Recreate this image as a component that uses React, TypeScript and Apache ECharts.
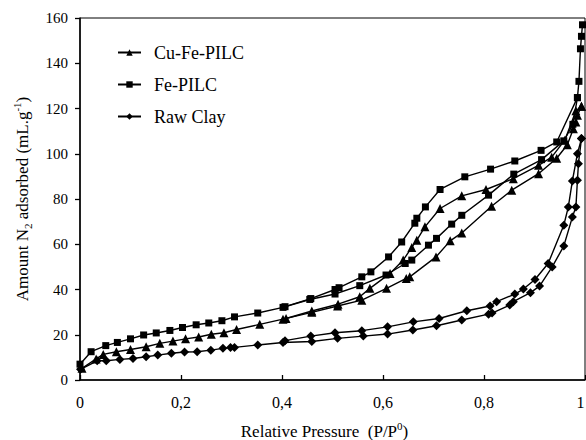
import React, { useEffect, useRef } from "react";
import * as echarts from "echarts";

// N2 adsorption/desorption isotherms: [relative pressure, amount adsorbed (mL/g)]
const cuFeAdsorption: number[][] = [
  [0.004, 5.2], [0.032, 9.3], [0.046, 11.3], [0.072, 12.5], [0.1, 13.5], [0.131, 14.7],
  [0.158, 16.2], [0.184, 17.2], [0.209, 18.2], [0.235, 19.0], [0.26, 20.2], [0.285, 20.9],
  [0.31, 22.3], [0.356, 24.6], [0.402, 26.9], [0.459, 29.9], [0.51, 32.7], [0.558, 35.3],
  [0.607, 40.5], [0.646, 44.9], [0.653, 45.6], [0.705, 54.4], [0.733, 61.5], [0.756, 65.0],
  [0.815, 76.8], [0.855, 83.9], [0.908, 91.2], [0.944, 98.0], [0.965, 104.0], [0.977, 111.0],
  [0.982, 114.0], [0.985, 117.0], [0.993, 121.0],
];
const cuFeDesorption: number[][] = [
  [0.993, 121.0], [0.982, 119.0], [0.96, 106.0], [0.934, 98.5], [0.908, 94.9], [0.858, 89.0],
  [0.804, 84.2], [0.756, 81.4], [0.713, 75.8], [0.683, 67.7], [0.667, 61.8], [0.657, 58.6],
  [0.64, 53.0], [0.614, 47.1], [0.574, 40.5], [0.554, 36.8], [0.511, 33.5], [0.459, 30.5],
  [0.408, 27.2],
];

const feAdsorption: number[][] = [
  [0, 7.0], [0.022, 12.5], [0.051, 15.2], [0.074, 16.6], [0.1, 18.2], [0.126, 19.9],
  [0.151, 20.8], [0.178, 21.9], [0.203, 23.2], [0.23, 24.4], [0.255, 25.2], [0.281, 26.2],
  [0.306, 27.9], [0.352, 29.6], [0.402, 32.1], [0.455, 35.6], [0.505, 38.0], [0.554, 41.7],
  [0.606, 46.4], [0.644, 51.5], [0.657, 53.0], [0.69, 59.6], [0.706, 62.6], [0.736, 68.9],
  [0.756, 72.8], [0.809, 81.7], [0.859, 91.0], [0.914, 97.4], [0.958, 105.7], [0.976, 113.0],
  [0.985, 124.8], [0.988, 132.0], [0.991, 146.4], [0.993, 151.9], [0.995, 157.0],
];
const feDesorption: number[][] = [
  [0.985, 124.8], [0.944, 105.2], [0.913, 101.5], [0.861, 96.8], [0.813, 93.2], [0.762, 89.8],
  [0.713, 84.2], [0.684, 76.5], [0.667, 71.5], [0.663, 69.3], [0.637, 61.0], [0.611, 54.4],
  [0.576, 47.8], [0.558, 45.6], [0.513, 40.8], [0.505, 40.0], [0.457, 36.0], [0.406, 32.4],
];

const rawClayAdsorption: number[][] = [
  [0.001, 4.7], [0.034, 8.5], [0.052, 8.5], [0.079, 9.1], [0.105, 9.5], [0.131, 10.3],
  [0.154, 11.0], [0.181, 11.8], [0.207, 12.4], [0.232, 12.5], [0.259, 13.2], [0.283, 14.0],
  [0.298, 14.4], [0.306, 14.4], [0.352, 15.5], [0.402, 16.6], [0.459, 17.0], [0.51, 18.4],
  [0.561, 19.4], [0.609, 20.3], [0.659, 22.1], [0.706, 24.0], [0.756, 26.5], [0.809, 29.1],
  [0.816, 29.6], [0.851, 33.1], [0.858, 34.6], [0.892, 38.6], [0.91, 41.5], [0.935, 50.0],
  [0.958, 59.2], [0.975, 72.0], [0.982, 76.5], [0.985, 88.3], [0.987, 95.6], [0.993, 106.7],
];
const rawClayDesorption: number[][] = [
  [0.993, 106.7], [0.985, 100.0], [0.975, 88.0], [0.967, 76.5], [0.958, 68.4], [0.927, 51.5],
  [0.901, 44.4], [0.878, 40.2], [0.861, 38.0], [0.825, 34.6], [0.812, 32.7], [0.766, 30.6],
  [0.711, 27.2], [0.66, 25.7], [0.609, 23.5], [0.558, 21.8], [0.505, 20.9], [0.457, 19.4],
  [0.406, 17.4],
];

const legendNames = ["Cu-Fe-PILC", "Fe-PILC", "Raw Clay"];
const xTickLabels = ["0", "0,2", "0,4", "0,6", "0,8", "1"];

const FONT = "Liberation Serif, Times New Roman, serif";

function branch(name: string, symbol: string, size: number, data: number[][]) {
  return {
    type: "line",
    name,
    data,
    symbol,
    symbolSize: size,
    showSymbol: true,
    lineStyle: { color: "#000", width: 1.4 },
    itemStyle: { color: "#000" },
    emphasis: { disabled: true },
  };
}

export default function App() {
  const ref = useRef<HTMLDivElement>(null);

  useEffect(() => {
    if (!ref.current) return;
    const chart = echarts.init(ref.current, undefined, { renderer: "svg" });
    const richBase = { fontFamily: FONT, fontSize: 17, color: "#000", lineHeight: 22 };
    const lastTick = xTickLabels.length - 1;
    chart.setOption({
      animation: false,
      backgroundColor: "#fff",
      textStyle: { fontFamily: FONT },
      grid: {
        left: 80,
        right: 1,
        top: 18,
        bottom: 60,
        containLabel: false,
        outerBoundsMode: "none",
        show: true,
        borderColor: "#000",
        borderWidth: 1,
      },
      legend: {
        data: legendNames,
        orient: "vertical",
        left: 112,
        top: 37,
        itemWidth: 23,
        itemHeight: 8,
        itemGap: 11,
        textStyle: {
          fontFamily: FONT,
          fontSize: 18,
          color: "#000",
          lineHeight: 21,
          padding: [0, 0, 0, 8],
        },
      },
      xAxis: {
        type: "value",
        min: 0,
        max: 1,
        interval: 0.2,
        name: "{a|Relative Pressure  (P/P}{sup|0}{a|)}",
        nameLocation: "middle",
        nameGap: 40,
        nameTextStyle: {
          padding: [0, 16, 0, 0],
          rich: {
            a: richBase,
            sup: { fontFamily: FONT, fontSize: 11, color: "#000", lineHeight: 12, verticalAlign: "top" },
          },
        },
        axisLine: { lineStyle: { color: "#000", width: 1.5 } },
        axisTick: { inside: true, length: 5, lineStyle: { color: "#000", width: 1.3 } },
        axisLabel: {
          fontFamily: FONT,
          fontSize: 16,
          color: "#000",
          margin: 14,
          formatter: (v: number) => {
            const i = Math.round(v / 0.2);
            const t = xTickLabels[i] ?? "";
            // keep the last label inside the right edge
            return i === lastTick ? `{e|${t}}` : t;
          },
          rich: {
            e: { fontFamily: FONT, fontSize: 16, color: "#000", padding: [0, 9, 0, 0] },
          },
        },
        splitLine: { show: false },
      },
      yAxis: {
        type: "value",
        min: 0,
        max: 160,
        interval: 20,
        name: "{a|Amount N}{sub|2}{a| adsorbed (mL.g}{sup|-1}{a|)}",
        nameLocation: "middle",
        nameGap: 47,
        nameTextStyle: {
          rich: {
            a: richBase,
            sub: { fontFamily: FONT, fontSize: 11, color: "#000", lineHeight: 12, verticalAlign: "bottom" },
            sup: { fontFamily: FONT, fontSize: 11, color: "#000", lineHeight: 12, verticalAlign: "top" },
          },
        },
        axisLine: { show: true, lineStyle: { color: "#000", width: 1.5 } },
        axisTick: { show: true, inside: false, length: 5, lineStyle: { color: "#000", width: 1.3 } },
        axisLabel: { fontFamily: FONT, fontSize: 15, color: "#000", margin: 12 },
        splitLine: { show: false },
      },
      series: [
        branch(legendNames[0], "triangle", 9, cuFeAdsorption),
        branch(legendNames[0], "triangle", 9, cuFeDesorption),
        branch(legendNames[1], "rect", 7, feAdsorption),
        branch(legendNames[1], "rect", 7, feDesorption),
        branch(legendNames[2], "diamond", 9, rawClayAdsorption),
        branch(legendNames[2], "diamond", 9, rawClayDesorption),
      ],
    });
    return () => chart.dispose();
  }, []);

  return (
    <div
      ref={ref}
      style={{ position: "fixed", left: 0, top: 0, width: 586, height: 440, background: "#fff" }}
    />
  );
}
